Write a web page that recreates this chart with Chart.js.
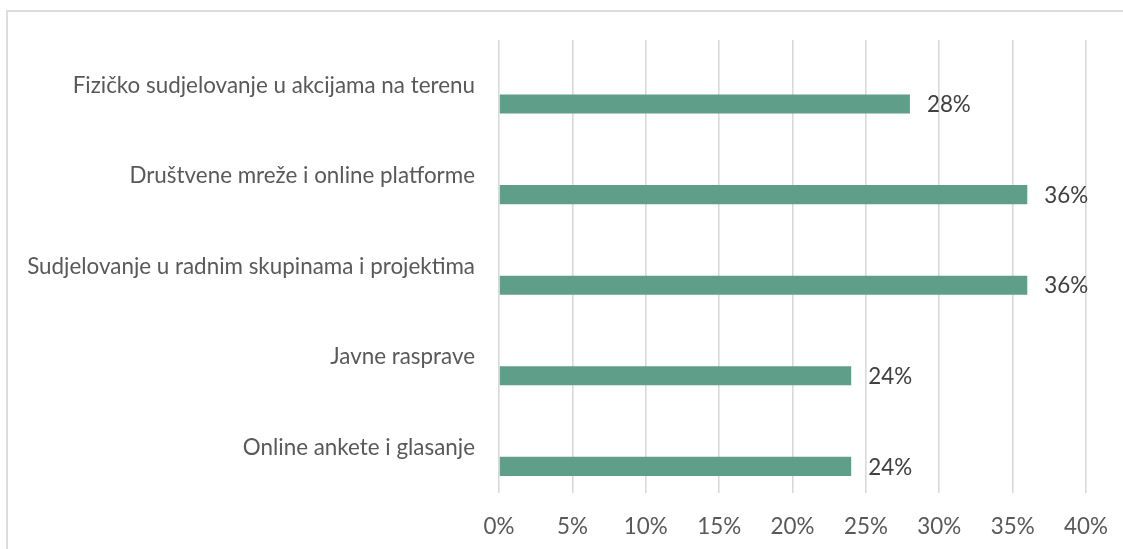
<!DOCTYPE html>
<html>
<head>
<meta charset="utf-8">
<script src="https://cdn.jsdelivr.net/npm/chart.js@4/dist/chart.umd.min.js"></script>
<style>
  html, body { margin: 0; padding: 0; background: #ffffff; }
  #wrap { position: relative; width: 1123px; height: 549px; overflow: hidden; }
  #frame {
    position: absolute; left: 6px; top: 10px; right: -4px; bottom: -4px;
    border-top: 2px solid #dcdcdc; border-left: 2px solid #dcdcdc;
    pointer-events: none;
  }
  canvas { position: absolute; left: 0; top: 0; }
</style>
</head>
<body>
<div id="wrap">
  <div id="frame"></div>
  <canvas id="chart" width="1123" height="549"></canvas>
</div>
<script>
// Ways of taking part, share of respondents (%)
const categories = [
  'Fizičko sudjelovanje u akcijama na terenu',
  'Društvene mreže i online platforme',
  'Sudjelovanje u radnim skupinama i projektima',
  'Javne rasprave',
  'Online ankete i glasanje'
];
const shares = [28, 36, 36, 24, 24];
// empty companion series; it keeps the upper half of each row free for the label
const spacer = [null, null, null, null, null];
const axisTicks = [0, 5, 10, 15, 20, 25, 30, 35, 40];

const FONT = 'Lato, "Open Sans", sans-serif';
const FONT_SIZE = 22.4;

const valueLabels = {
  id: 'valueLabels',
  afterDatasetsDraw(chart) {
    const ctx = chart.ctx;
    const meta = chart.getDatasetMeta(1);
    ctx.save();
    ctx.font = FONT_SIZE + 'px ' + FONT;
    ctx.fillStyle = '#404040';
    ctx.textAlign = 'left';
    ctx.textBaseline = 'middle';
    meta.data.forEach((bar, i) => {
      ctx.fillText(shares[i] + '%', bar.x + 17, bar.y + 1);
    });
    ctx.restore();
  }
};

new Chart(document.getElementById('chart'), {
  type: 'bar',
  data: {
    labels: categories,
    datasets: [
      { label: '', data: spacer, backgroundColor: 'rgba(0,0,0,0)' },
      {
        label: 'Udio',
        data: shares,
        backgroundColor: '#5f9e88',
        borderWidth: 0
      }
    ]
  },
  options: {
    indexAxis: 'y',
    responsive: false,
    animation: false,
    events: [],
    categoryPercentage: 0.826,
    barPercentage: 0.51,
    layout: { padding: { top: 40, right: 37, left: 0, bottom: 0 } },
    plugins: {
      legend: { display: false },
      tooltip: { enabled: false },
      title: { display: false }
    },
    scales: {
      x: {
        type: 'linear',
        min: 0,
        max: 40,
        afterBuildTicks(scale) {
          scale.ticks = axisTicks.map(v => ({ value: v }));
        },
        afterFit(scale) {
          scale.height = 56;
          scale.paddingLeft = 0;
          scale.paddingRight = 0;
        },
        grid: { color: '#d9d9d9', lineWidth: 1.6, drawTicks: false },
        border: { display: false },
        ticks: {
          padding: 20,
          color: '#595959',
          font: { family: FONT, size: FONT_SIZE },
          callback: v => v + '%'
        }
      },
      y: {
        afterFit(scale) { scale.width = 499; },
        grid: { display: false, drawTicks: false },
        border: { display: false },
        ticks: {
          padding: 24,
          color: '#595959',
          font: { family: FONT, size: FONT_SIZE }
        }
      }
    }
  },
  plugins: [valueLabels]
});
</script>
</body>
</html>
